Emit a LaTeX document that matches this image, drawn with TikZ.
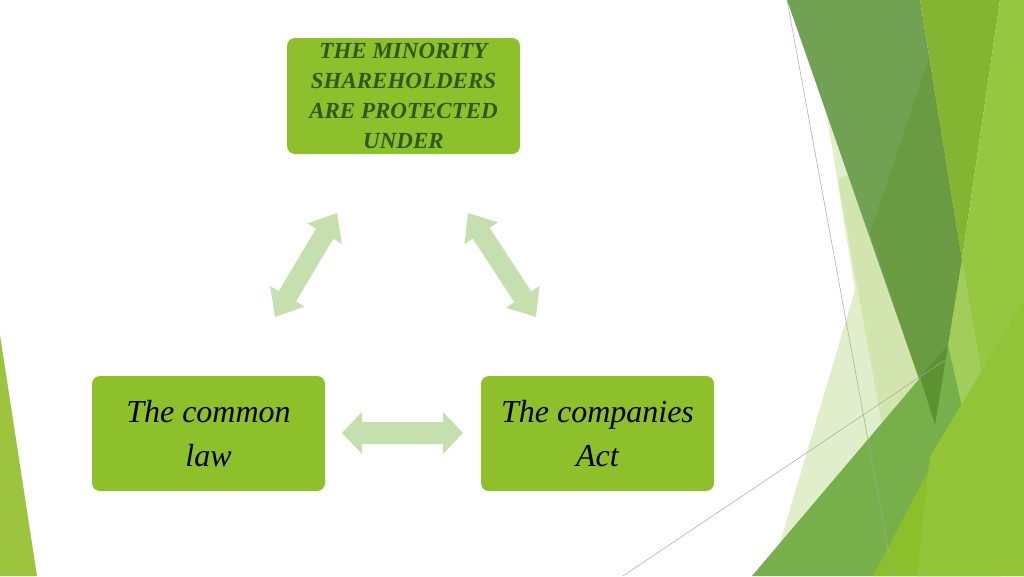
\documentclass[tikz,border=0pt]{standalone}
\usepackage{fontspec}
\setmainfont{Liberation Serif}
\definecolor{boxgreen}{HTML}{8DC02B}
\definecolor{titlegreen}{HTML}{2E5A1D}
\definecolor{arrowgreen}{HTML}{C5DFAE}
\definecolor{paleA}{HTML}{E1EECB}
\definecolor{paleB}{HTML}{D2E5AF}
\definecolor{darkA}{HTML}{71A153}
\definecolor{darkB}{HTML}{6A9A42}
\definecolor{olive}{HTML}{85B432}
\definecolor{lightR}{HTML}{97C741}
\definecolor{lightS}{HTML}{A2CD5A}
\definecolor{medG}{HTML}{77B04B}
\definecolor{overlapG}{HTML}{5C922F}
\definecolor{limeA}{HTML}{8CBF2C}
\definecolor{limeB}{HTML}{93C437}
\definecolor{sliver}{HTML}{9CC43E}
\newcommand{\blockarrow}[8]{% name, cx, cy, angle, length, shaft, head, headlen
  \coordinate (#1) at (#2,#3);
  \begin{scope}[shift={(#1)}, rotate=#4]
    \fill[arrowgreen] ({-#5/2},0) -- ({-#5/2+#8},{#7/2}) -- ({-#5/2+#8},{#6/2}) -- ({#5/2-#8},{#6/2}) -- ({#5/2-#8},{#7/2}) -- ({#5/2},0) -- ({#5/2-#8},{-#7/2}) -- ({#5/2-#8},{-#6/2}) -- ({-#5/2+#8},{-#6/2}) -- ({-#5/2+#8},{-#7/2}) -- cycle;
  \end{scope}}
\begin{document}
\begin{tikzpicture}[x=1pt,y=-1pt,
  box/.style={fill=boxgreen, rounded corners=8pt, minimum width=233pt, minimum height=116pt, inner sep=0pt, align=center},
  toptext/.style={text=titlegreen, font=\fontsize{23}{30}\selectfont\bfseries\itshape},
  lowtext/.style={text=black, font=\fontsize{32}{44}\selectfont\itshape},
  thinline/.style={draw=black!35, line width=0.5pt}]
\useasboundingbox (0,0) rectangle (1024,576);
\fill[white] (0,0) rectangle (1024,576);
\begin{scope}
\clip (0,0) rectangle (1024,576);
% left sliver
\fill[sliver] (0,335) -- (0,576) -- (37,576) -- cycle;
% right facets
\fill[paleA] (826,110) -- (855,290) -- (780,543) -- (930,400) -- (900,200) -- cycle;
\fill[paleB] (838,180) -- (882,425) -- (940,360) -- (900,150) -- cycle;
\fill[darkA] (787,0) -- (920,0) -- (962,260) -- (935,425) -- cycle;
\fill[darkB] (929,57) -- (962,260) -- (935,425) -- (870,233) -- cycle;
\fill[olive] (920,0) -- (1000,0) -- (962,260) -- cycle;
\fill[lightR] (1000,0) -- (1024,0) -- (1024,576) -- (935,425) -- (962,260) -- cycle;
\fill[lightS] (962,260) -- (983,380) -- (933,465) -- (937,420) -- cycle;
\fill[medG] (752,576) -- (948,345) -- (1000,576) -- cycle;
\fill[overlapG] (920,377) -- (948,345) -- (935,425) -- cycle;
\fill[limeA] (873,576) -- (933,462) -- (1024,300) -- (1024,576) -- cycle;
\fill[limeB] (917,576) -- (930,457) -- (1024,300) -- (1024,576) -- cycle;
\draw[thinline] (787,0) -- (893,576);
\draw[thinline] (623,576) -- (945,360);
\end{scope}
% boxes
\node[box, toptext] (top) at (403.5,96) {THE MINORITY\\SHAREHOLDERS\\ARE PROTECTED\\UNDER};
\node[box, lowtext, minimum height=115pt] (law) at (208.5,433.5) {The common\\law};
\node[box, lowtext, minimum height=115pt] (act) at (597.5,433.5) {The companies\\Act};
% block arrows
\blockarrow{a1}{306}{265}{59.2}{121}{20}{40}{24}
\blockarrow{a2}{502}{265}{-56.8}{124}{20}{40}{24}
\blockarrow{a3}{402.5}{433}{0}{121}{22}{42}{20}
\end{tikzpicture}
\end{document}
